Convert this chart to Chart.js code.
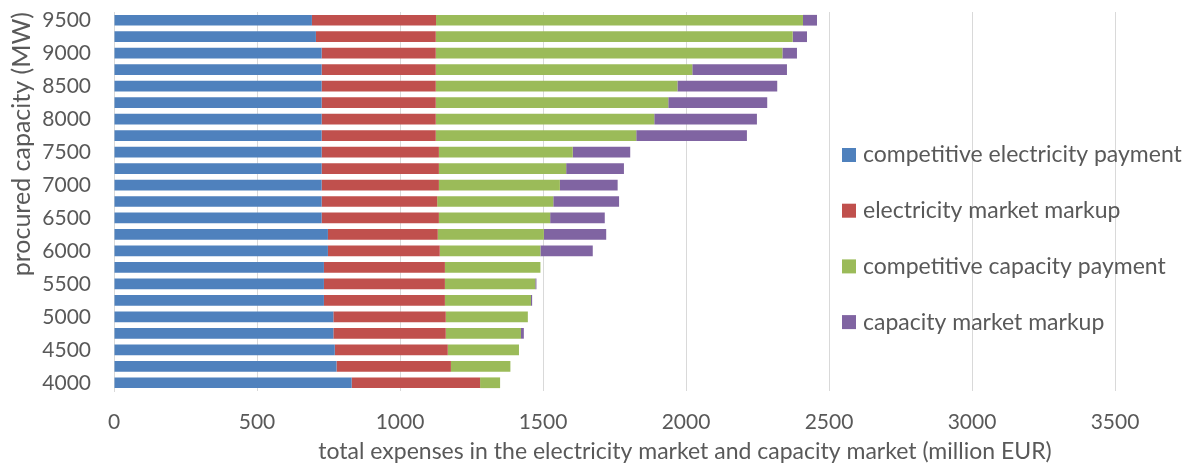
<!DOCTYPE html>
<html>
<head>
<meta charset="utf-8">
<script src="https://cdn.jsdelivr.net/npm/chart.js@4.4.0/dist/chart.umd.min.js"></script>
<style>
  html, body { margin: 0; padding: 0; background: #fff; }
</style>
</head>
<body>
<canvas id="chart" width="1194" height="476"></canvas>
<script>
// procured capacity (MW), top bar first
const capacities = [9500, 9250, 9000, 8750, 8500, 8250, 8000, 7750, 7500, 7250, 7000, 6750,
  6500, 6250, 6000, 5750, 5500, 5250, 5000, 4750, 4500, 4250, 4000];

// million EUR, same order as capacities
const electricityPayment = [692, 706, 726, 726, 726, 726, 726, 726, 726, 726, 726, 726,
  726, 748, 748, 734, 734, 734, 767, 767, 772, 778, 831];
const electricityMarkup = [434, 419, 399, 399, 399, 399, 399, 399, 410, 410, 410, 404,
  410, 384, 391, 423, 423, 423, 393, 393, 395, 400, 449];
const capacityPayment = [1283, 1248, 1212, 897, 845, 813, 764, 701, 468, 445, 423, 406,
  389, 371, 352, 334, 316, 301, 287, 263, 249, 208, 70];
const capacityMarkup = [49, 50, 51, 331, 349, 346, 359, 387, 201, 202, 202, 230,
  191, 218, 183, 0, 4, 4, 0, 10, 0, 0, 0];

const xTicks = [0, 500, 1000, 1500, 2000, 2500, 3000, 3500];

const ink = '#595959';
const family = 'Lato, "Open Sans", sans-serif';

// legend + x title drawn by hand so they can sit over the plot like in excel
const overlay = {
  id: 'overlay',
  afterDraw(chart) {
    const ctx = chart.ctx;
    ctx.save();
    ctx.textBaseline = 'middle';

    ctx.font = '23px ' + family;
    chart.data.datasets.forEach((ds, i) => {
      const y = 155 + i * 55.7;
      ctx.fillStyle = ds.backgroundColor;
      ctx.fillRect(842, y - 7, 14, 14);
      ctx.fillStyle = ink;
      ctx.textAlign = 'left';
      ctx.fillText(ds.label, 863, y);
    });

    ctx.fillStyle = ink;
    ctx.textAlign = 'center';
    ctx.fillText('total expenses in the electricity market and capacity market (million EUR)', 685, 452);
    ctx.restore();
  }
};

new Chart(document.getElementById('chart'), {
  type: 'bar',
  data: {
    labels: capacities,
    datasets: [
      { label: 'competitive electricity payment', data: electricityPayment, backgroundColor: '#4F81BD' },
      { label: 'electricity market markup', data: electricityMarkup, backgroundColor: '#C0504D' },
      { label: 'competitive capacity payment', data: capacityPayment, backgroundColor: '#9BBB59' },
      { label: 'capacity market markup', data: capacityMarkup, backgroundColor: '#8064A2' }
    ]
  },
  options: {
    indexAxis: 'y',
    responsive: false,
    animation: false,
    barPercentage: 0.65,
    categoryPercentage: 1,
    layout: { padding: { top: 12, right: 79, left: 0, bottom: 0 } },
    plugins: {
      legend: { display: false },
      tooltip: { enabled: false }
    },
    scales: {
      x: {
        stacked: true,
        min: 0,
        max: 3500,
        afterBuildTicks(scale) { scale.ticks = xTicks.map(v => ({ value: v })); },
        ticks: { color: ink, font: { family, size: 21 }, padding: 19, callback: v => String(v) },
        grid: { color: '#d9d9d9', drawTicks: false },
        border: { display: false },
        afterFit(scale) { scale.height = 85; }
      },
      y: {
        stacked: true,
        ticks: {
          autoSkip: false,
          color: ink,
          font: { family, size: 21 },
          padding: 23,
          callback(value) {
            const c = capacities[value];
            return c % 500 === 0 ? String(c) : '';
          }
        },
        grid: { display: false, drawTicks: false },
        border: { display: true, color: '#d9d9d9' },
        title: {
          display: true,
          text: 'procured capacity (MW)',
          align: 'end',
          color: ink,
          font: { family, size: 25 },
          padding: { top: 7, bottom: 0 }
        },
        afterFit(scale) {
          scale.width = 114;
          scale.paddingTop = 0;
          scale.paddingBottom = 0;
        }
      }
    }
  },
  plugins: [overlay]
});
</script>
</body>
</html>
